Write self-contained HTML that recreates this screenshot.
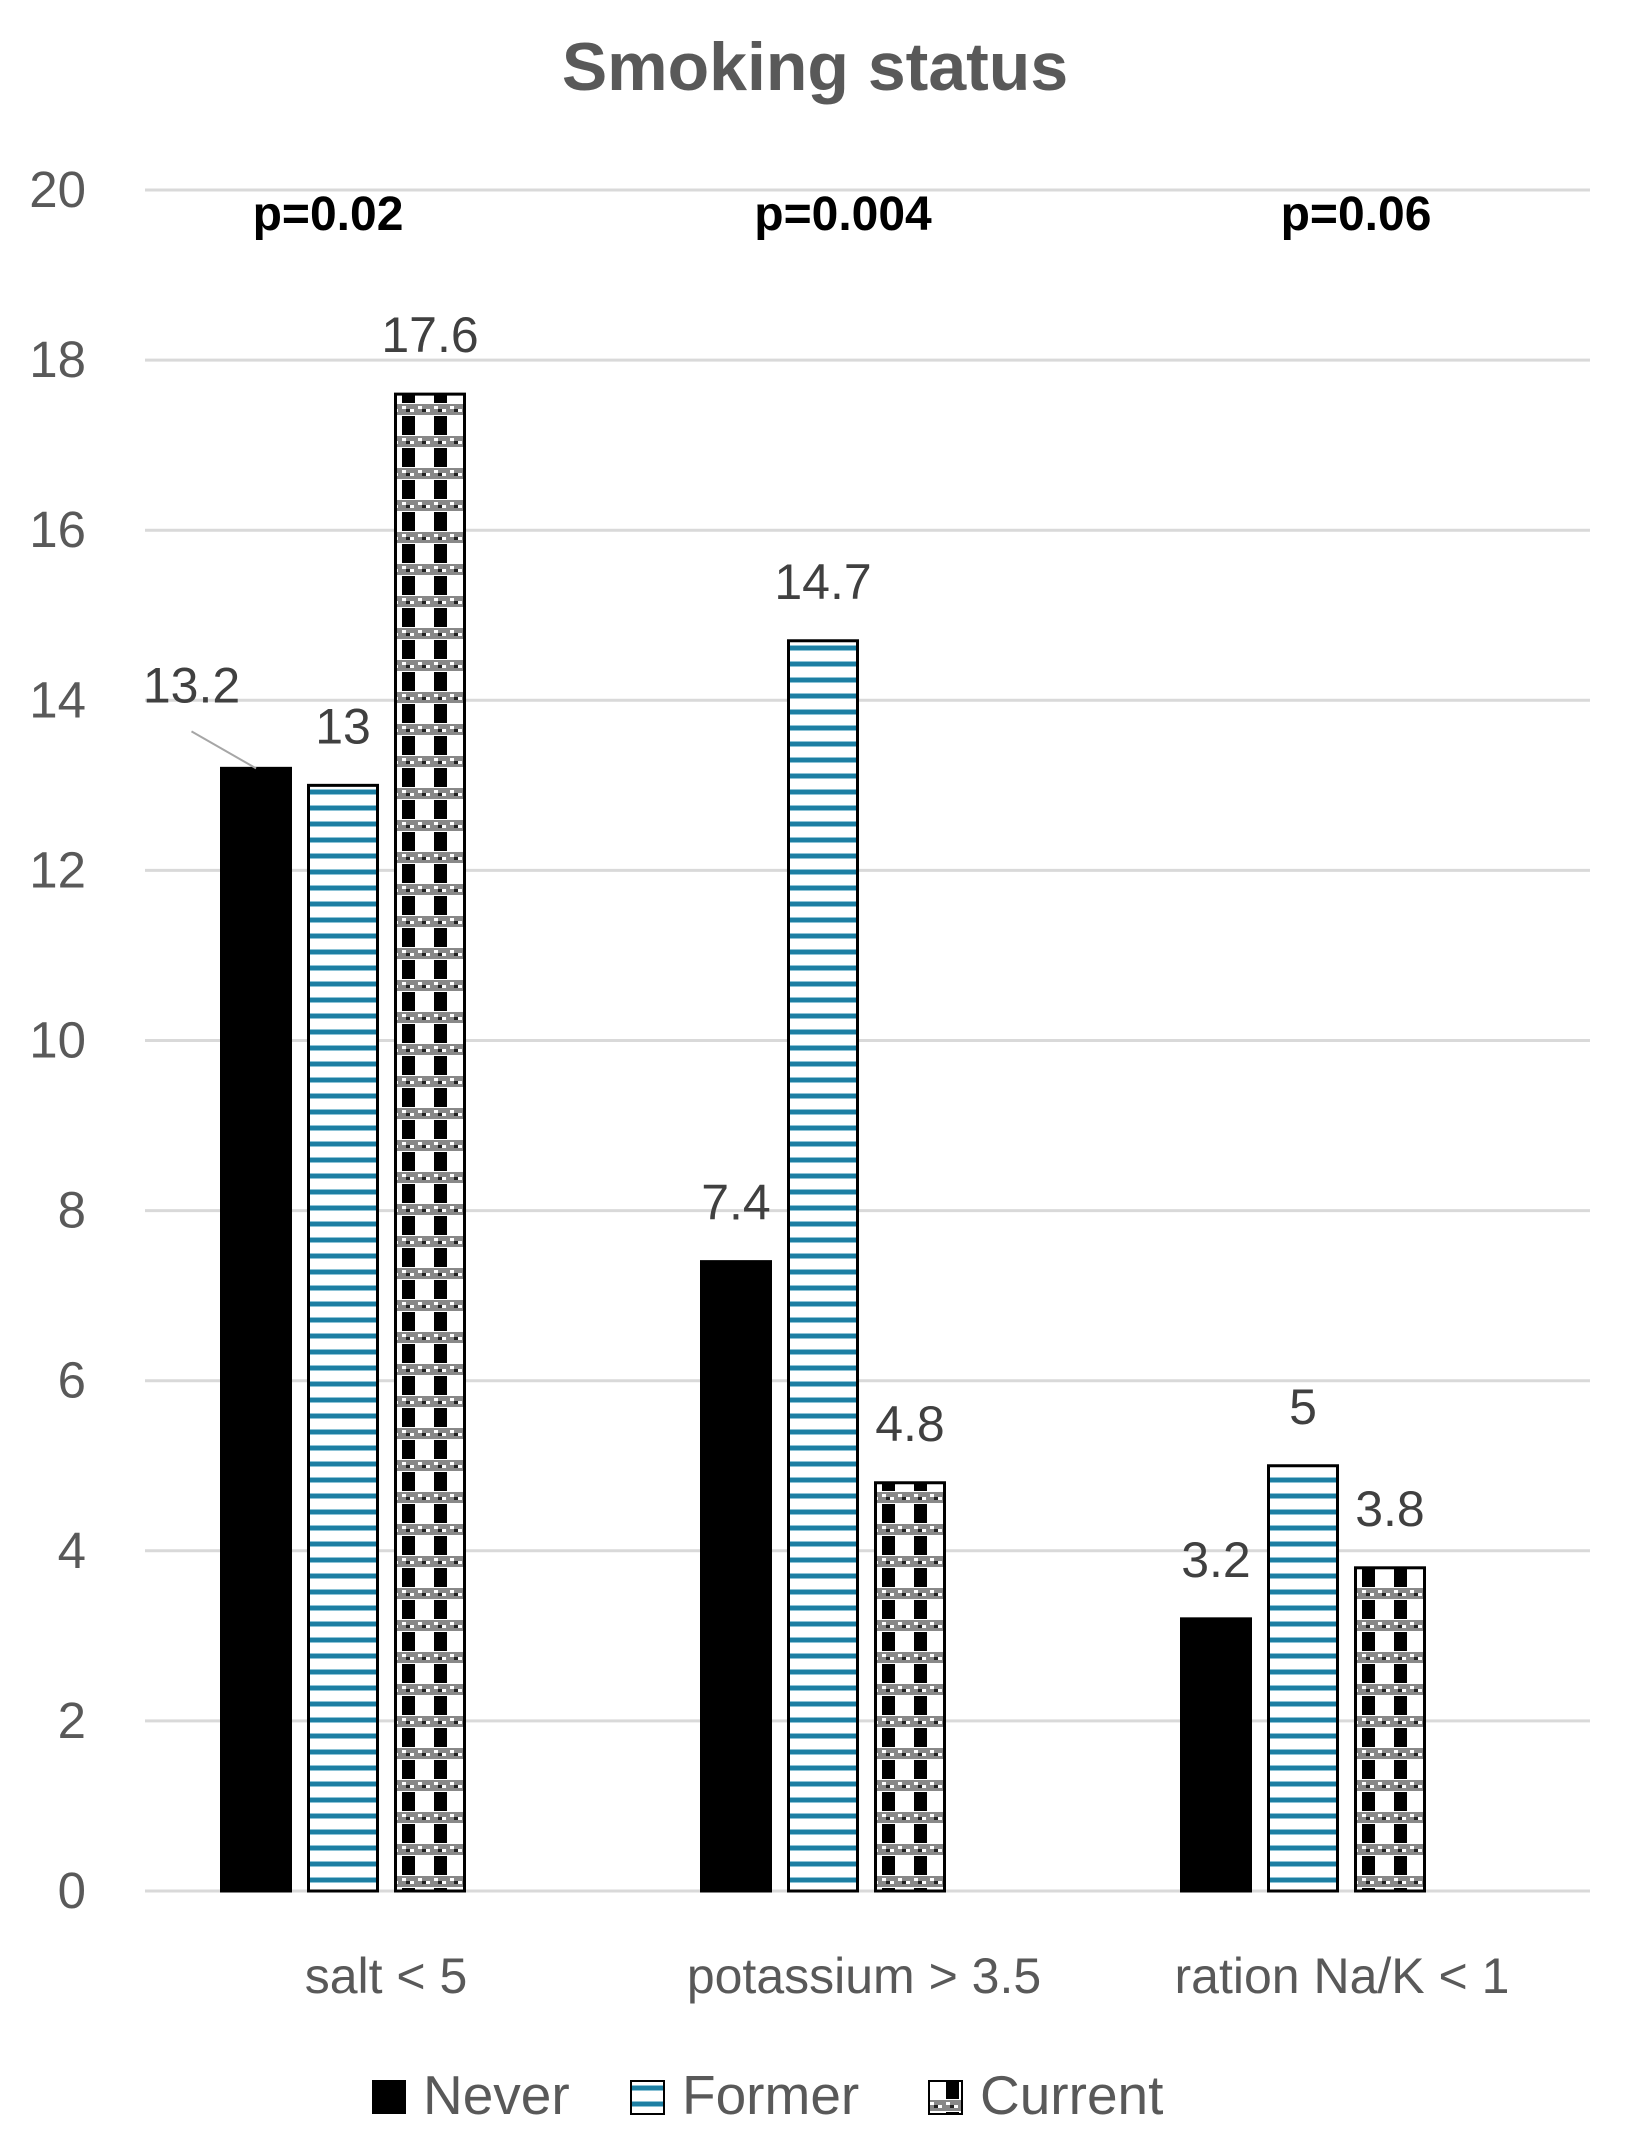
<!DOCTYPE html>
<html><head><meta charset="utf-8"><style>
html,body{margin:0;padding:0;background:#fff}
svg{display:block}
text{font-family:"Liberation Sans",sans-serif}
</style></head><body>
<svg id="chart" width="1631" height="2152" viewBox="0 0 1631 2152" xmlns="http://www.w3.org/2000/svg">
<defs>
<pattern id="pFormer" width="16" height="16" patternUnits="userSpaceOnUse">
<rect width="16" height="16" fill="#fff"/><rect y="6" width="16" height="4" fill="#1d7fa3"/><rect y="5" width="16" height="1" fill="#8cc3d6"/><rect y="10" width="16" height="1" fill="#8cc3d6"/>
</pattern>
<pattern id="pCurrent" width="32" height="32" patternUnits="userSpaceOnUse">
<rect width="32" height="32" fill="#fff"/>
<rect x="18" y="0" width="13" height="19" fill="#000"/>
<rect x="0" y="20" width="32" height="11" fill="#888"/>
<rect x="2" y="22" width="4" height="3" fill="#fff"/><rect x="10" y="25" width="4" height="3" fill="#fff"/><rect x="18" y="22" width="4" height="3" fill="#fff"/><rect x="26" y="25" width="4" height="3" fill="#fff"/>
<rect x="6" y="25" width="4" height="3" fill="#222"/><rect x="22" y="25" width="4" height="3" fill="#222"/>
</pattern>
</defs>
<text x="815" y="90" text-anchor="middle" font-size="68" font-weight="bold" fill="#595959">Smoking status</text>
<g id="grid"></g><g id="bars"></g><g id="labels"></g>
<g>
<rect x="372" y="2080" width="34" height="34" fill="#000"/>
<text x="423" y="2114" font-size="55" fill="#595959">Never</text>
<rect x="631" y="2081" width="33" height="33" fill="url(#pFormer)" stroke="#000" stroke-width="2"/>
<text x="682" y="2114" font-size="55" fill="#595959">Former</text>
<rect x="929" y="2081" width="33" height="33" fill="url(#pCurrent)" stroke="#000" stroke-width="2"/>
<text x="980" y="2114" font-size="55" fill="#595959">Current</text>
</g>
</svg>
<script>
const categories = ["salt < 5", "potassium > 3.5", "ration Na/K < 1"];
const neverVals = [13.2, 7.4, 3.2];
const formerVals = [13, 14.7, 5];
const currentVals = [17.6, 4.8, 3.8];
const pValues = ["p=0.02", "p=0.004", "p=0.06"];
const yTicks = [0, 2, 4, 6, 8, 10, 12, 14, 16, 18, 20];

const NS = "http://www.w3.org/2000/svg";
const X0 = 145, X1 = 1590, Y0 = 1891, Y20 = 190, YMAX = 20;
function yScale(v){ return Y0 - (v / YMAX) * (Y0 - Y20); }
const band = 480;
function xCenter(i){ return 343 + band * i; }
function labelCenter(i){ return 386 + 478 * i; }
const pOffset = [-15, 20, 53];
function mk(tag, attrs, parent){
  const e = document.createElementNS(NS, tag);
  for (const k in attrs) e.setAttribute(k, attrs[k]);
  parent.appendChild(e); return e;
}
const grid = document.getElementById('grid');
const bars = document.getElementById('bars');
const labels = document.getElementById('labels');

yTicks.forEach(t => {
  const l = mk('line', {x1: X0, x2: X1, y1: yScale(t), y2: yScale(t), stroke: '#d9d9d9', 'stroke-width': 3}, grid);
  
  
  const tx = mk('text', {x: 86, y: yScale(t) + 17, 'text-anchor': 'end', 'font-size': 51, fill: '#595959'}, grid);
  tx.textContent = t;
  
  
});

const series = [
  {name: 'never', vals: neverVals, fill: '#000', stroke: '#000'},
  {name: 'former', vals: formerVals, fill: 'url(#pFormer)', stroke: '#000'},
  {name: 'current', vals: currentVals, fill: 'url(#pCurrent)', stroke: '#000'}
];
const BW = 69, STRIDE = 87;
categories.forEach((c, i) => {
  const cx = xCenter(i);
  series.forEach((s, j) => {
    const bx = cx + (j - 1) * STRIDE - BW / 2;
    const v = s.vals[i];
    const r = mk('rect', {x: bx, y: yScale(v), width: BW, height: Y0 - yScale(v), fill: s.fill, stroke: s.stroke, 'stroke-width': 3}, bars);
    
    
    let lx = bx + BW / 2, ly = yScale(v) - 42;
    if (i === 0 && j === 0) {
      lx = bx - 30; ly = yScale(v) - 66;
      const ll = mk('line', {x1: lx, y1: ly + 29, x2: bx + BW / 2, y2: yScale(v), stroke: '#a6a6a6', 'stroke-width': 2}, labels);
      
      
    }
    const t = mk('text', {x: lx, y: ly, 'text-anchor': 'middle', 'font-size': 50, fill: '#404040'}, labels);
    t.textContent = v;
    
    
  });
  const ct = mk('text', {x: labelCenter(i), y: 1993, 'text-anchor': 'middle', 'font-size': 50, fill: '#595959'}, labels);
  ct.textContent = c;
  
  
  const pt = mk('text', {x: cx + pOffset[i], y: 230, 'text-anchor': 'middle', 'font-size': 48, 'font-weight': 'bold', fill: '#000'}, labels);
  pt.textContent = pValues[i];
  
  
});
</script>
</body></html>
